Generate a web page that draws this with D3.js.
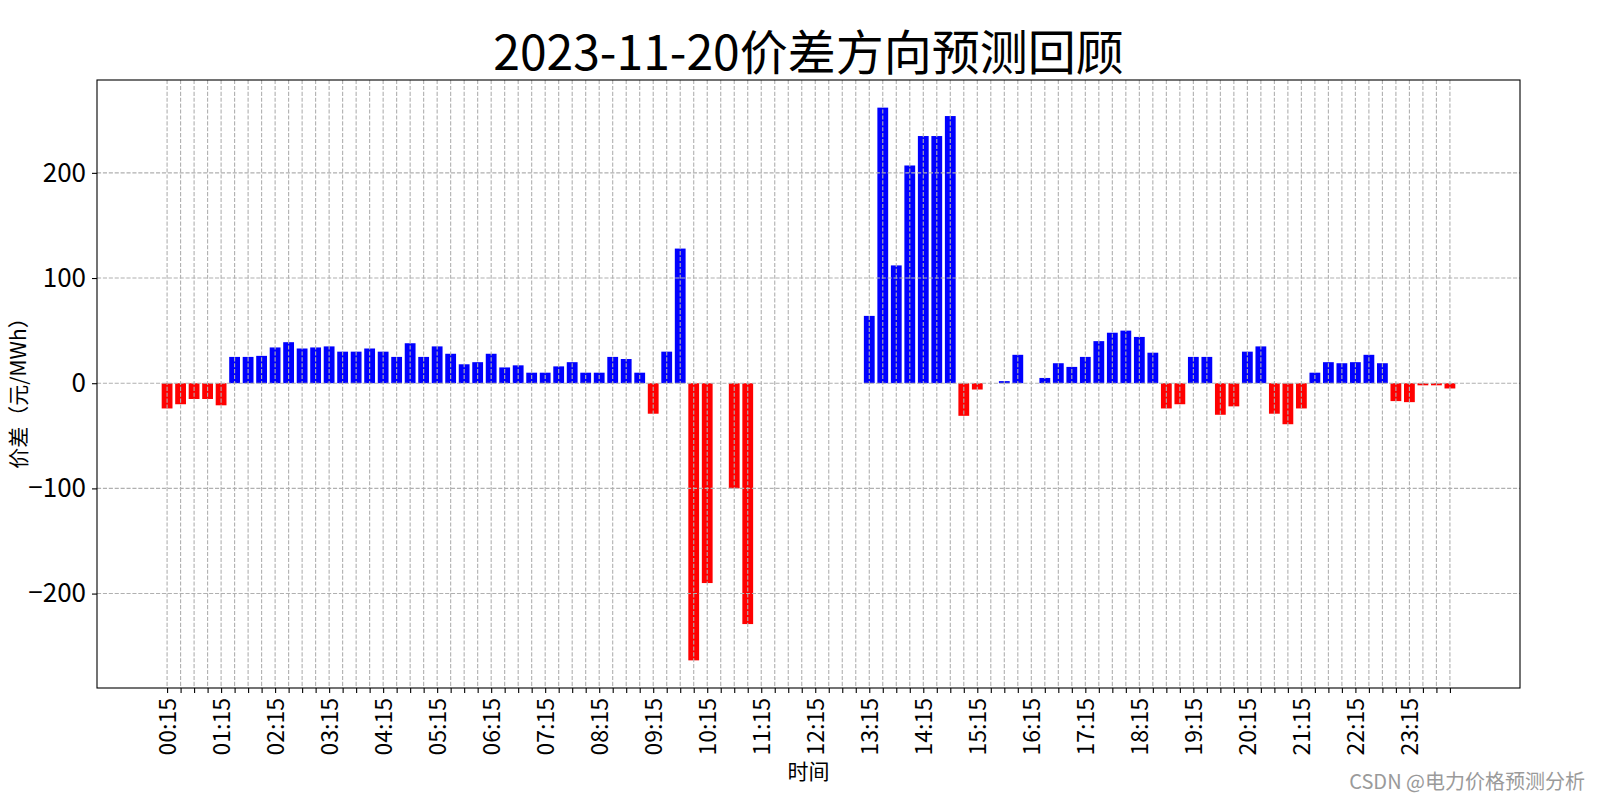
<!DOCTYPE html>
<html>
<head>
<meta charset="utf-8">
<script src="https://cdn.jsdelivr.net/npm/d3@7"></script>
<style>
  html, body { margin: 0; padding: 0; background: #fff; }
  svg { display: block; }
  text { font-family: "Noto Sans CJK SC", "DejaVu Sans", sans-serif; }
</style>
</head>
<body>
<svg id="chart" width="1600" height="800"></svg>
<script>
// ---- data ----
const times = [
  "00:15","00:30","00:45","01:00","01:15","01:30","01:45","02:00",
  "02:15","02:30","02:45","03:00","03:15","03:30","03:45","04:00",
  "04:15","04:30","04:45","05:00","05:15","05:30","05:45","06:00",
  "06:15","06:30","06:45","07:00","07:15","07:30","07:45","08:00",
  "08:15","08:30","08:45","09:00","09:15","09:30","09:45","10:00",
  "10:15","10:30","10:45","11:00","11:15","11:30","11:45","12:00",
  "12:15","12:30","12:45","13:00","13:15","13:30","13:45","14:00",
  "14:15","14:30","14:45","15:00","15:15","15:30","15:45","16:00",
  "16:15","16:30","16:45","17:00","17:15","17:30","17:45","18:00",
  "18:15","18:30","18:45","19:00","19:15","19:30","19:45","20:00",
  "20:15","20:30","20:45","21:00","21:15","21:30","21:45","22:00",
  "22:15","22:30","22:45","23:00","23:15","23:30","23:45","24:00"
];
const priceDiff = [
  -24, -20, -15, -15, -21, 25, 25, 26,
  34, 39, 33, 34, 35, 30, 30, 33,
  30, 25, 38, 25, 35, 28, 18, 20,
  28, 15, 17, 10, 10, 16, 20, 10,
  10, 25, 23, 10, -29, 30, 128, -263.5,
  -190, 0, -100, -229, 0, 0, 0, 0,
  0, 0, 0, 0, 64, 262, 112, 207,
  235, 235, 254, -31, -6, 0, 2, 27,
  0, 5, 19, 15.5, 25, 40, 48, 50,
  44, 29, -24, -20, 25, 25, -30, -22,
  30, 35, -29, -39, -24, 10, 20, 19,
  20, 27, 19, -17, -18, -2, -2, -5
];
const yTicks = [-200, -100, 0, 100, 200];
const titleText = "2023-11-20价差方向预测回顾";
const xLabelText = "时间";
const yLabelText = "价差（元/MWh）";
const watermark = "CSDN @电力价格预测分析";

// ---- layout ----
const L = 97, R = 1520, T = 80, B = 688;
const svg = d3.select("#chart");

const n = priceDiff.length;
const barW = 0.8;
const xSpan = (n - 1) + barW;
const x = d3.scaleLinear()
  .domain([-barW / 2 - 0.05 * xSpan, (n - 1) + barW / 2 + 0.05 * xSpan])
  .range([L, R]);

const [vmin, vmax] = d3.extent(priceDiff.concat([0]));
const ySpan = vmax - vmin;
const y = d3.scaleLinear()
  .domain([vmin - 0.05 * ySpan, vmax + 0.05 * ySpan])
  .range([B, T]);

// bars
svg.append("g").selectAll("rect")
  .data(priceDiff)
  .join("rect")
  .attr("x", (d, i) => x(i - barW / 2))
  .attr("width", (d, i) => x(i + barW / 2) - x(i - barW / 2))
  .attr("y", d => y(Math.max(0, d)))
  .attr("height", d => Math.abs(y(d) - y(0)))
  .attr("fill", d => d >= 0 ? "#0000ff" : "#ff0000");

// grid (drawn over bars)
const grid = svg.append("g")
  .attr("stroke", "#b0b0b0")
  .attr("stroke-width", 1.1)
  .attr("stroke-dasharray", "4.1,1.8");
grid.selectAll("line.v")
  .data(d3.range(n))
  .join("line")
  .attr("class", "v")
  .attr("x1", i => x(i)).attr("x2", i => x(i))
  .attr("y1", T).attr("y2", B);
grid.selectAll("line.h")
  .data(yTicks)
  .join("line")
  .attr("class", "h")
  .attr("x1", L).attr("x2", R)
  .attr("y1", d => y(d)).attr("y2", d => y(d));

// x axis
const xAxis = d3.axisBottom(x)
  .tickValues(d3.range(n))
  .tickSize(5)
  .tickPadding(5)
  .tickFormat(i => (i % 4 === 0 ? times[i] : ""));
const gx = svg.append("g")
  .attr("transform", `translate(0,${B})`)
  .call(xAxis);
gx.select(".domain").remove();
gx.selectAll(".tick line").attr("stroke", "#000").attr("stroke-width", 1.1);
gx.selectAll(".tick text")
  .attr("font-size", 23)
  .attr("fill", "#000")
  .attr("font-family", "Noto Sans CJK SC")
  .attr("transform", "rotate(-90)")
  .attr("text-anchor", "end")
  .attr("dy", "0.35em")
  .attr("x", -10)
  .attr("y", 0);

// y axis
const yAxis = d3.axisLeft(y)
  .tickValues(yTicks)
  .tickSize(5)
  .tickPadding(6)
  .tickFormat(d => d < 0 ? "\u2212" + Math.abs(d) : String(d));
const gy = svg.append("g")
  .attr("transform", `translate(${L},0)`)
  .call(yAxis);
gy.select(".domain").remove();
gy.selectAll(".tick line").attr("stroke", "#000").attr("stroke-width", 1.1);
gy.selectAll(".tick text")
  .attr("font-size", 26)
  .attr("fill", "#000")
  .attr("font-family", "Noto Sans CJK SC");

// spines
svg.append("rect")
  .attr("x", L).attr("y", T)
  .attr("width", R - L).attr("height", B - T)
  .attr("fill", "none")
  .attr("stroke", "#000")
  .attr("stroke-width", 1.1);

// title
svg.append("text")
  .attr("x", (L + R) / 2)
  .attr("y", 70)
  .attr("text-anchor", "middle")
  .attr("font-size", 48)
  .attr("fill", "#000")
  .text(titleText);

// axis labels
svg.append("text")
  .attr("x", (L + R) / 2)
  .attr("y", 779)
  .attr("text-anchor", "middle")
  .attr("font-size", 21)
  .attr("fill", "#000")
  .text(xLabelText);

svg.append("text")
  .attr("transform", `translate(26,${(T + B) / 2 + 4}) rotate(-90)`)
  .attr("text-anchor", "middle")
  .attr("font-size", 21)
  .attr("fill", "#000")
  .text(yLabelText);

// watermark
svg.append("text")
  .attr("x", 1585)
  .attr("y", 789)
  .attr("text-anchor", "end")
  .attr("font-size", 20)
  .attr("fill", "#9a9a9a")
  .text(watermark);
</script>
</body>
</html>
